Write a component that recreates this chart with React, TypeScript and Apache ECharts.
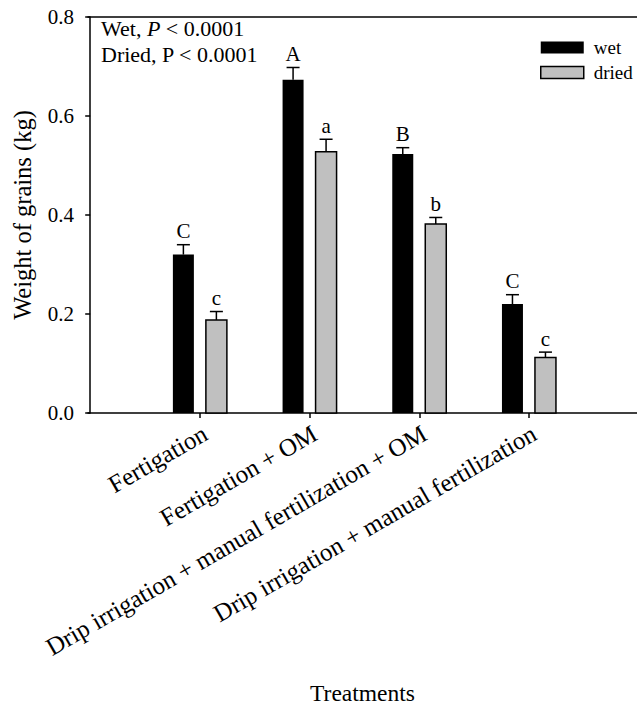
import React, { useEffect, useRef } from "react";
import * as echarts from "echarts";

const categories = [
  "Fertigation",
  "Fertigation + OM",
  "Drip irrigation + manual fertilization + OM",
  "Drip irrigation + manual fertilization",
];
const positions = [1, 2, 3, 4];
const wetValues = [0.32, 0.673, 0.523, 0.22];
const wetErrors = [0.02, 0.025, 0.013, 0.019];
const wetLetters = ["C", "A", "B", "C"];
const driedValues = [0.188, 0.528, 0.382, 0.112];
const driedErrors = [0.017, 0.025, 0.013, 0.011];
const driedLetters = ["c", "a", "b", "c"];
const yTicks = [0, 0.2, 0.4, 0.6, 0.8];

const FONT = "'Liberation Serif', 'Times New Roman', serif";
const BAR_W = 21;
const OFFSET = 16.5;
const CAP = 6.5;

function makeRender(letters: string[], offset: number, fill: string, stroke: string | null) {
  return (params: any, api: any) => {
    const xv = api.value(0);
    const v = api.value(1);
    const e = api.value(2);
    const base = api.coord([xv, 0]);
    const top = api.coord([xv, v]);
    const errTop = api.coord([xv, v + e]);
    const cx = base[0] + offset;
    return {
      type: "group",
      children: [
        {
          type: "rect",
          shape: { x: cx - BAR_W / 2, y: top[1], width: BAR_W, height: base[1] - top[1] },
          style: stroke ? { fill, stroke, lineWidth: 1.5 } : { fill },
        },
        {
          type: "line",
          shape: { x1: cx, y1: top[1], x2: cx, y2: errTop[1] },
          style: { stroke: "#000", lineWidth: 1.5 },
        },
        {
          type: "line",
          shape: { x1: cx - CAP, y1: errTop[1], x2: cx + CAP, y2: errTop[1] },
          style: { stroke: "#000", lineWidth: 1.5 },
        },
        {
          type: "text",
          style: {
            text: letters[params.dataIndex],
            x: cx,
            y: errTop[1] - 3,
            align: "center",
            verticalAlign: "bottom",
            fontFamily: FONT,
            fontSize: 21,
            fill: "#000",
          },
        },
      ],
    };
  };
}

export default function App() {
  const ref = useRef<HTMLDivElement>(null);
  useEffect(() => {
    if (!ref.current) return;
    const chart = echarts.init(ref.current, null, { renderer: "svg" });
    const xMin = -0.02;
    const xMax = 4.985;
    chart.setOption({
      animation: false,
      backgroundColor: "#fff",
      textStyle: { fontFamily: FONT, color: "#000" },
      grid: { left: 88, top: 17, width: 549, height: 396, containLabel: false, outerBoundsMode: "none" },
      legend: {
        orient: "vertical",
        left: 540,
        top: 38,
        padding: 0,
        itemWidth: 43,
        itemHeight: 12,
        itemGap: 6,
        textStyle: { fontFamily: FONT, fontSize: 19, color: "#000", padding: [0, 0, 0, 5] },
        data: [
          { name: "wet", icon: "rect", itemStyle: { color: "#000" } },
          { name: "dried", icon: "rect", itemStyle: { color: "#c0c0c0", borderColor: "#000", borderWidth: 1.5 } },
        ],
      },
      xAxis: [
        {
          type: "value",
          min: xMin,
          max: xMax,
          position: "bottom",
          splitLine: { show: false },
          axisLine: { show: true, lineStyle: { color: "#000", width: 1.5 } },
          axisTick: { show: true, customValues: positions, length: 5, lineStyle: { color: "#000", width: 1.5 } },
          axisLabel: {
            customValues: positions,
            formatter: (v: number) => categories[positions.indexOf(Math.round(v))] ?? "",
            rotate: 30,
            margin: 21.5,
            padding: [0, -6, 0, 0],
            fontFamily: FONT,
            fontSize: 25,
            color: "#000",
          },
          name: "Treatments",
          nameLocation: "middle",
          nameGap: 268,
          nameMoveOverlap: false,
          nameTextStyle: { fontFamily: FONT, fontSize: 23.5, color: "#000" },
        },
        {
          type: "value",
          min: xMin,
          max: xMax,
          position: "top",
          splitLine: { show: false },
          axisLine: { show: true, lineStyle: { color: "#000", width: 1.5 } },
          axisTick: { show: false },
          axisLabel: { show: false },
        },
      ],
      yAxis: {
        type: "value",
        min: yTicks[0],
        max: yTicks[yTicks.length - 1],
        interval: 0.2,
        splitLine: { show: false },
        axisLine: { show: true, lineStyle: { color: "#000", width: 1.5 } },
        axisTick: { show: true, length: 5, lineStyle: { color: "#000", width: 1.5 } },
        axisLabel: {
          formatter: (v: number) => v.toFixed(1),
          margin: 14,
          fontFamily: FONT,
          fontSize: 21,
          color: "#000",
        },
        name: "Weight of grains (kg)",
        nameLocation: "middle",
        nameRotate: 90,
        nameGap: 53,
        nameMoveOverlap: false,
        nameTextStyle: { fontFamily: FONT, fontSize: 24.5, color: "#000" },
      },
      graphic: [
        {
          type: "text",
          x: 101,
          y: 28,
          style: {
            text: "{n|Wet, }{i|P}{n| < 0.0001}",
            verticalAlign: "middle",
            rich: {
              n: { fontFamily: FONT, fontSize: 22, fill: "#000" },
              i: { fontFamily: FONT, fontSize: 22, fontStyle: "italic", fill: "#000" },
            },
          },
        },
        {
          type: "text",
          x: 101,
          y: 54,
          style: {
            text: "Dried, P < 0.0001",
            verticalAlign: "middle",
            fontFamily: FONT,
            fontSize: 22,
            fill: "#000",
          },
        },
      ],
      series: [
        {
          name: "wet",
          type: "custom",
          xAxisIndex: 0,
          clip: false,
          itemStyle: { color: "#000" },
          encode: { x: 0, y: 1 },
          data: positions.map((p, i) => [p, wetValues[i], wetErrors[i]]),
          renderItem: makeRender(wetLetters, -OFFSET, "#000", null),
        },
        {
          name: "dried",
          type: "custom",
          xAxisIndex: 0,
          clip: false,
          itemStyle: { color: "#c0c0c0", borderColor: "#000", borderWidth: 1.5 },
          encode: { x: 0, y: 1 },
          data: positions.map((p, i) => [p, driedValues[i], driedErrors[i]]),
          renderItem: makeRender(driedLetters, OFFSET, "#c0c0c0", "#000"),
        },
      ],
    });
    return () => chart.dispose();
  }, []);
  return <div ref={ref} style={{ position: "absolute", left: 0, top: 0, width: 637, height: 706 }} />;
}
